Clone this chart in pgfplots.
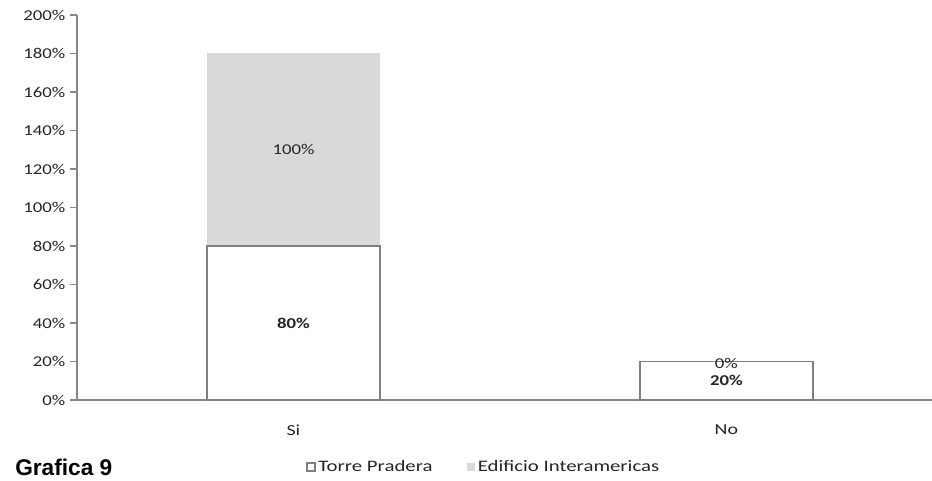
\documentclass[border=0pt]{standalone}
\usepackage{pgfplots}
\pgfplotsset{compat=1.18}
\usepackage{fontspec}
\setmainfont{Carlito}[FakeStretch=1.25]
\newfontfamily\legfont{Carlito}[FakeStretch=1.3]
\newfontfamily\titlefont{Liberation Sans}
\definecolor{axgray}{HTML}{878787}
\definecolor{bargray}{HTML}{D9D9D9}
\definecolor{edgegray}{HTML}{7F7F7F}
\definecolor{txt}{HTML}{262626}
\begin{document}
\begin{tikzpicture}
\path[use as bounding box] (0pt,0pt) rectangle (699pt,360.75pt);
\begin{axis}[
  at={(57.75pt,60.75pt)}, anchor=south west,
  scale only axis, width=641.25pt, height=288.75pt,
  xmin=-0.5, xmax=1.475, ymin=0, ymax=200,
  axis x line*=bottom, axis y line*=left,
  axis line style={axgray, line width=1pt},
  ybar stacked, bar width=129.75pt,
  tick align=outside,
  xtick={0,1}, xticklabels={Si,No},
  major x tick style={draw=none},
  extra x ticks={0.5}, extra x tick labels={},
  extra x tick style={major tick length=4pt, major x tick style={axgray, line width=1pt}},
  ytick={0,20,...,200},
  major tick length=5.25pt,
  y tick style={axgray, line width=1pt},
  /pgf/number format/assume math mode=true,
  /pgf/number format/fixed, /pgf/number format/precision=0,
  yticklabel={\pgfmathprintnumber{\tick}\%},
  tick label style={font=\fontsize{11.25}{13}\selectfont, text=txt},
  xticklabel style={yshift=-10pt, font=\legfont\fontsize{11.5}{13}\selectfont},
  legend style={at={(0.268,-0.174)}, anchor=west, draw=none, fill=none,
    legend columns=2, font=\legfont\fontsize{12}{14}\selectfont, text=txt,
    /tikz/every even column/.append style={column sep=24pt},
    inner sep=0pt},
  legend cell align=left,
  legend image code/.code={\path[#1] (0pt,-3pt) rectangle (6pt,3pt);},
  clip=false,
]
\addplot[fill=white, draw=edgegray, line width=1pt] coordinates {(0,80) (1,20)};
\addlegendentry{Torre Pradera}
\addplot[fill=bargray, draw=none] coordinates {(0,100) (1,0)};
\addlegendentry{Edificio Interamericas}
\coordinate (l1) at (axis cs:0,40);
\coordinate (l2) at (axis cs:0,130);
\coordinate (l3) at (axis cs:1,10);
\coordinate (l4) at (axis cs:1,19);
\end{axis}
\node[font=\bfseries\fontsize{11.25}{13}\selectfont, text=txt] at (l1) {80\%};
\node[font=\fontsize{11.25}{13}\selectfont, text=txt] at (l2) {100\%};
\node[font=\bfseries\fontsize{11.25}{13}\selectfont, text=txt] at (l3) {20\%};
\node[font=\fontsize{11.25}{13}\selectfont, text=txt] at (l4) {0\%};
\node[anchor=west, font=\titlefont\bfseries\fontsize{17}{20}\selectfont, text=black, inner sep=0pt] at (11.25pt,10.5pt) {Grafica 9};
\end{tikzpicture}
\end{document}
